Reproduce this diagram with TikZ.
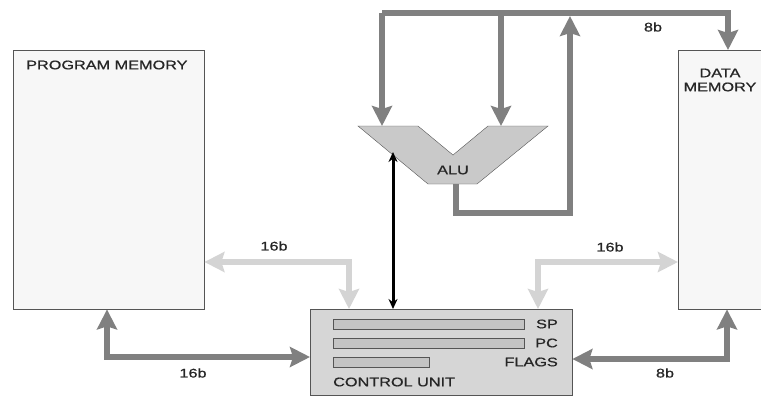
\documentclass[tikz,border=0pt]{standalone}
\usepackage{fontspec}
\setmainfont{Liberation Sans}[FakeStretch=1.3, FakeBold=0.8, AutoFakeBold=0.8]
\usetikzlibrary{calc, positioning}
\usetikzlibrary{arrows.meta}

\definecolor{busdark}{HTML}{808080}
\definecolor{buslight}{HTML}{D4D4D4}
\definecolor{edge}{HTML}{555555}

\tikzset{
  txt/.style={font=\fontsize{12.5}{14}\selectfont, inner sep=0pt, text=black!85},
  membox/.style={draw=edge, fill=white!97!black, anchor=north west, inner sep=0pt},
  bar/.style={draw=edge, fill=black!23},
  darkbus/.style={draw=busdark, line width=6pt},
  lightbus/.style={draw=buslight, line width=6pt},
  fat/.tip={Stealth[length=20pt, width=20pt, inset=3pt]},
}

\begin{document}
\begin{tikzpicture}[x=1pt, y=-1pt]
\useasboundingbox (0,0) rectangle (761,397);
\clip (0,0) rectangle (761,397);

% memories and control unit
\node[membox, minimum width=191pt, minimum height=259pt] (pm) at (13,50) {};
\node[membox, minimum width=120pt, minimum height=259pt] (dm) at (678,50) {};
\node[membox, fill=black!16, minimum width=262pt, minimum height=86pt] (cu) at (310,309) {};

\node[txt, anchor=west] (pmlabel) at (26,65) {PROGRAM MEMORY};
\node[txt, align=center] (dmlabel) at (720,80) {DATA\\MEMORY};

% registers
\draw[bar] (333,319) rectangle (524,329);
\draw[bar] (333,338) rectangle (524,348);
\draw[bar] (333,357) rectangle (429,367);
\node[txt, anchor=east] (sp) at (558,324) {SP};
\node[txt, anchor=east] (pc) at (558,343) {PC};
\node[txt, anchor=east] (flags) at (558,362) {FLAGS};
\node[txt, anchor=west] (culabel) at (333,382) {CONTROL UNIT};

% ALU
\coordinate (aluA) at (382,126);
\coordinate (aluB) at (501,126);
\coordinate (aluOut) at (456,184);
\draw[draw=edge, fill=black!21] (358,126) -- (418,126) -- (453,155) -- (488,126)
  -- (548,126) -- (477,184) -- (428,184) -- cycle;
\node[txt] (alu) at (453,170) {ALU};

% 8b data bus
\coordinate (busL) at (382,13);
\draw[darkbus, -fat] (busL) -| (dm.north -| 728,0);
\draw[darkbus, -fat] (busL) -- (aluA);
\draw[darkbus, -fat] (aluB |- busL) -- (aluB);
\draw[darkbus, -fat] (aluOut) -- (456,213) -| (570,16);
\node[txt] (b8top) at (653,27) {8b};

% control line
\draw[line width=3pt, {Stealth[length=10pt,width=9pt]}-{Stealth[length=10pt,width=9pt]}]
  (393,152) -- (cu.north -| 393,0);

% address buses
\draw[lightbus, fat-fat] (pm.east |- 0,262) -| (cu.north -| 349,0);
\draw[lightbus, fat-fat] (cu.north -| 538,0) |- (dm.west |- 0,262);
\node[txt] (b16a) at (274,246) {16b};
\node[txt] (b16b) at (610,247) {16b};

% instruction and data buses
\draw[darkbus, fat-fat] (pm.south -| 107,0) |- (cu.west |- 0,357);
\draw[darkbus, fat-fat] (cu.east |- 0,359) -| (dm.south -| 727,0);
\node[txt] (b16c) at (193,373) {16b};
\node[txt] (b8bot) at (665,373) {8b};

\end{tikzpicture}
\end{document}
